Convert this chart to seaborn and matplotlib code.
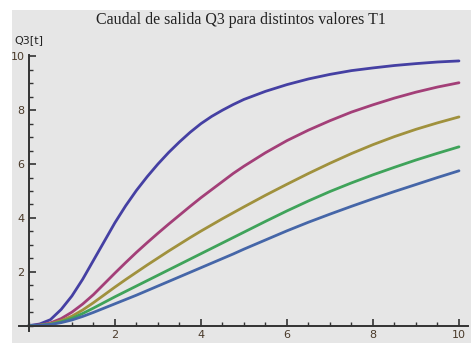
import matplotlib
matplotlib.use("Agg")
import matplotlib.pyplot as plt
import matplotlib.patches as mpatches
from matplotlib.ticker import MultipleLocator, FixedLocator
import seaborn as sns
import pandas as pd

# ---- data ----
t = [0, 0.25, 0.5, 0.75, 1, 1.25, 1.5, 1.75, 2, 2.25, 2.5, 2.75, 3, 3.25, 3.5, 3.75,
     4, 4.25, 4.5, 4.75, 5, 5.5, 6, 6.5, 7, 7.5, 8, 8.5, 9, 9.5, 10]
curve1 = [0, 0.06, 0.22, 0.60, 1.10, 1.72, 2.42, 3.12, 3.82, 4.45, 5.02, 5.53, 6.00, 6.43, 6.82, 7.18,
          7.50, 7.77, 8.00, 8.21, 8.40, 8.70, 8.95, 9.16, 9.33, 9.47, 9.57, 9.66, 9.73, 9.79, 9.83]
curve2 = [0, 0.02, 0.10, 0.26, 0.50, 0.80, 1.15, 1.55, 1.95, 2.34, 2.72, 3.08, 3.43, 3.77, 4.10, 4.43,
          4.75, 5.05, 5.35, 5.65, 5.92, 6.42, 6.87, 7.26, 7.61, 7.93, 8.20, 8.45, 8.67, 8.86, 9.02]
curve3 = [0, 0.015, 0.07, 0.18, 0.35, 0.58, 0.85, 1.14, 1.43, 1.71, 1.98, 2.25, 2.51, 2.77, 3.02, 3.27,
          3.51, 3.74, 3.97, 4.19, 4.41, 4.84, 5.25, 5.65, 6.03, 6.39, 6.72, 7.02, 7.29, 7.53, 7.75]
curve4 = [0, 0.01, 0.05, 0.14, 0.27, 0.45, 0.65, 0.86, 1.07, 1.27, 1.47, 1.67, 1.87, 2.07, 2.27, 2.47,
          2.67, 2.87, 3.07, 3.27, 3.47, 3.87, 4.26, 4.63, 4.98, 5.30, 5.60, 5.88, 6.15, 6.40, 6.64]
curve5 = [0, 0.01, 0.04, 0.11, 0.21, 0.34, 0.49, 0.65, 0.81, 0.97, 1.13, 1.30, 1.47, 1.64, 1.81, 1.98,
          2.15, 2.32, 2.49, 2.66, 2.84, 3.18, 3.52, 3.84, 4.14, 4.43, 4.71, 4.98, 5.24, 5.50, 5.75]
series_names = ["c1", "c2", "c3", "c4", "c5"]
colors = ["#4540a3", "#a33f78", "#a0913d", "#3fa35a", "#4566a8"]
x_ticks = [2, 4, 6, 8, 10]
y_ticks = [2, 4, 6, 8, 10]
title = "Caudal de salida Q3 para distintos valores T1"
ylabel = "Q3[t]"

rows = []
for name, vals in zip(series_names, [curve1, curve2, curve3, curve4, curve5]):
    for ti, v in zip(t, vals):
        rows.append({"t": ti, "Q3": v, "serie": name})
df = pd.DataFrame(rows)

W, H = 471, 343
fig = plt.figure(figsize=(W / 100, H / 100), dpi=100, facecolor="white")
# gray panel
fig.patches.append(mpatches.Rectangle((12 / W, 0), 1 - 12 / W, 1 - 10 / H,
                                      transform=fig.transFigure, facecolor="#e6e6e6",
                                      edgecolor="none", zorder=-10))

ax = fig.add_axes([19 / W, (H - 331) / H, 449 / W, 276 / H])
ax.set_facecolor("none")
sns.lineplot(data=df, x="t", y="Q3", hue="serie", palette=colors, legend=False,
             linewidth=2.0, ax=ax, sort=True)
for line in ax.get_lines():
    line.set_solid_joinstyle("round")
    line.set_solid_capstyle("round")
ax.set_xlim(-0.23, 10.21)
ax.set_ylim(-0.2, 10.05)

for s in ["top", "right"]:
    ax.spines[s].set_visible(False)
ax.spines["left"].set_position(("data", 0))
ax.spines["bottom"].set_position(("data", 0))
for s in ["left", "bottom"]:
    ax.spines[s].set_color("#333333")
    ax.spines[s].set_linewidth(1.4)

ax.xaxis.set_major_locator(FixedLocator(x_ticks))
ax.yaxis.set_major_locator(FixedLocator(y_ticks))
ax.xaxis.set_minor_locator(MultipleLocator(0.5))
ax.yaxis.set_minor_locator(MultipleLocator(0.5))
ax.tick_params(which="major", direction="in", length=5, width=1.2, color="#333333",
               labelsize=8, labelcolor="#4a3a2a", pad=3)
ax.tick_params(which="minor", direction="in", length=3, width=1.0, color="#333333")
ax.set_xlabel("")
ax.set_ylabel("")
for lab in ax.get_xticklabels() + ax.get_yticklabels():
    lab.set_fontfamily("DejaVu Sans")

fig.text(241 / W, 1 - 20 / H, title, ha="center", va="center",
         fontfamily="Liberation Serif", fontsize=11.5, color="#222222")
fig.text(14 / W, 1 - 40 / H, ylabel, ha="left", va="center",
         fontfamily="DejaVu Sans", fontsize=8, color="#222222")

fig.savefig("out.png", dpi=100, facecolor="white")
